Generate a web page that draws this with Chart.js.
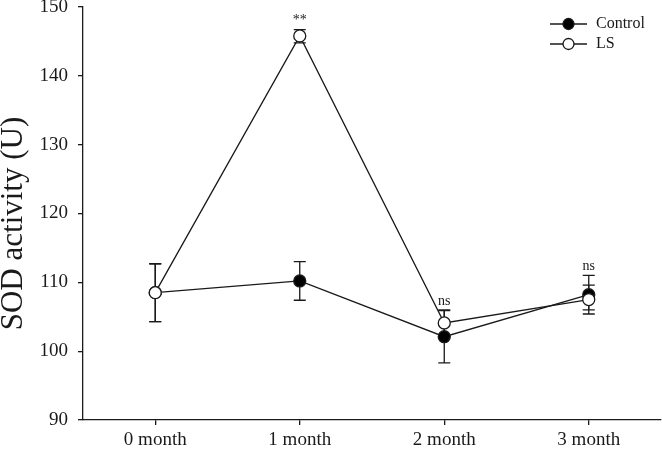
<!DOCTYPE html>
<html>
<head>
<meta charset="utf-8">
<script src="https://cdn.jsdelivr.net/npm/chart.js@4/dist/chart.umd.min.js"></script>
<style>
  html, body { margin: 0; padding: 0; background: #fff; }
  #wrap { width: 662px; height: 453px; position: relative; }
</style>
</head>
<body>
<div id="wrap"><canvas id="c" width="662" height="453"></canvas></div>
<script>
const categories = ['0 month', '1 month', '2 month', '3 month'];
const seriesNames = ['Control', 'LS'];
const yAxisTitle = 'SOD activity (U)';
const controlMean = [108.5, 110.2, 102.1, 108.2];
const controlLow  = [104.3, 107.4, 98.3, 105.4];
const controlHigh = [112.7, 113.0, 105.9, 111.0];
const lsMean = [108.5, 145.8, 104.1, 107.5];
const lsLow  = [104.3, 144.8, 102.2, 106.0];
const lsHigh = [112.7, 146.7, 106.0, 109.6];
const significance = ['', '**', 'ns', 'ns'];
const yMin = 90, yMax = 150, yStep = 10;

const FONT = '"Liberation Serif", "Times New Roman", serif';
const INK = '#1a1a1a';

const errorBars = {
  id: 'errorBars',
  beforeDatasetsDraw(chart) {
    const ctx = chart.ctx;
    const x = chart.scales.x, y = chart.scales.y;
    ctx.save();
    ctx.strokeStyle = INK;
    ctx.lineWidth = 1.3;
    chart.data.datasets.forEach(ds => {
      ds.low.forEach((lo, i) => {
        const px = x.getPixelForValue(i);
        const yl = y.getPixelForValue(lo);
        const yh = y.getPixelForValue(ds.high[i]);
        ctx.beginPath();
        ctx.moveTo(px, yl); ctx.lineTo(px, yh);
        ctx.moveTo(px - 6, yl); ctx.lineTo(px + 6, yl);
        ctx.moveTo(px - 6, yh); ctx.lineTo(px + 6, yh);
        ctx.stroke();
      });
    });
    ctx.restore();
  },
  afterDatasetsDraw(chart) {
    const ctx = chart.ctx;
    const x = chart.scales.x, y = chart.scales.y;
    const area = chart.chartArea;
    ctx.save();
    ctx.fillStyle = INK;
    ctx.textAlign = 'center';
    ctx.textBaseline = 'bottom';
    significance.forEach((s, i) => {
      if (!s) return;
      const top = Math.max(controlHigh[i], lsHigh[i]);
      const px = x.getPixelForValue(i);
      const py = y.getPixelForValue(top);
      ctx.font = '14px ' + FONT;
      ctx.fillText(s, px, py - 2);
    });
    // y axis title
    ctx.save();
    ctx.translate(14, (area.top + area.bottom) / 2 + 10);
    ctx.rotate(-Math.PI / 2);
    ctx.font = '31px ' + FONT;
    ctx.textAlign = 'center';
    ctx.textBaseline = 'middle';
    ctx.fillStyle = INK;
    ctx.fillText(yAxisTitle, 0, 0);
    ctx.restore();
    // legend
    const ds = chart.data.datasets.slice().sort((a, b) => a.legendIndex - b.legendIndex);
    const lx = area.right - 111;
    let ly = area.top + 17;
    ds.forEach(d => {
      ctx.strokeStyle = INK;
      ctx.lineWidth = 1.3;
      ctx.beginPath();
      ctx.moveTo(lx, ly); ctx.lineTo(lx + 37, ly);
      ctx.stroke();
      ctx.beginPath();
      ctx.arc(lx + 18.5, ly, 5.5, 0, Math.PI * 2);
      ctx.fillStyle = d.pointBackgroundColor;
      ctx.fill();
      ctx.stroke();
      ctx.fillStyle = INK;
      ctx.font = '16px ' + FONT;
      ctx.textAlign = 'left';
      ctx.textBaseline = 'middle';
      ctx.fillText(d.label, lx + 46, ly);
      ly += 20;
    });
    ctx.restore();
  }
};

new Chart(document.getElementById('c'), {
  type: 'line',
  data: {
    labels: categories,
    datasets: [
      {
        label: seriesNames[0], legendIndex: 0, order: 1,
        data: controlMean, low: controlLow, high: controlHigh,
        borderColor: INK, borderWidth: 1.3, tension: 0,
        pointRadius: 6, pointHoverRadius: 6, pointBorderWidth: 1.3,
        pointBackgroundColor: '#000', pointBorderColor: INK
      },
      {
        label: seriesNames[1], legendIndex: 1, order: 0,
        data: lsMean, low: lsLow, high: lsHigh,
        borderColor: INK, borderWidth: 1.3, tension: 0,
        pointRadius: 6, pointHoverRadius: 6, pointBorderWidth: 1.3,
        pointBackgroundColor: '#fff', pointBorderColor: INK
      }
    ]
  },
  options: {
    responsive: false,
    animation: false,
    devicePixelRatio: 1,
    layout: { autoPadding: false, padding: { top: 7, right: 1, left: 0, bottom: 0 } },
    plugins: { legend: { display: false }, tooltip: { enabled: false } },
    scales: {
      x: {
        offset: true,
        grid: { display: true, drawOnChartArea: false, drawTicks: true, tickLength: 5, color: INK, lineWidth: 1.3, offset: false },
        border: { display: true, color: INK, width: 1.3 },
        ticks: { color: INK, font: { family: FONT, size: 19 }, padding: 4, maxRotation: 0 },
        afterFit(s) { s.height = 33; s.paddingLeft = 0; s.paddingRight = 0; }
      },
      y: {
        min: yMin, max: yMax,
        grid: { display: true, drawOnChartArea: false, drawTicks: true, tickLength: 5, color: INK, lineWidth: 1.3 },
        border: { display: true, color: INK, width: 1.3 },
        ticks: { stepSize: yStep, color: INK, font: { family: FONT, size: 19 }, padding: 10 },
        title: { display: false },
        afterFit(s) { s.width = 83; s.paddingTop = 0; s.paddingBottom = 0; }
      }
    }
  },
  plugins: [errorBars]
});
</script>
</body>
</html>
